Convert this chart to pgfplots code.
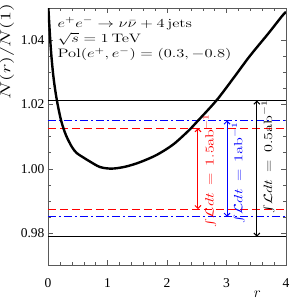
\RequirePackage{fix-cm}
\documentclass[border=0pt]{standalone}
\usepackage[no-math]{fontspec}
\setmainfont{Liberation Serif}
\usepackage{graphicx}
\usepackage{pgfplots}
\pgfplotsset{compat=1.18}
\usetikzlibrary{arrows.meta}
\newcommand{\wide}[1]{\scalebox{1.35}[1]{#1}}
\begin{document}
\begin{tikzpicture}
\begin{axis}[
  at={(0,0)}, anchor=south west,
  scale only axis, width=238pt, height=257pt,
  xmin=0, xmax=4, ymin=0.97, ymax=1.05,
  xtick={0,1,2,3,4}, ytick={0.98,1.00,1.02,1.04},
  minor x tick num=4, minor y tick num=3,
  tick align=inside,
  major tick length=5pt, minor tick length=3pt,
  axis line style={black!65},
  tick style={black!65},
  /pgf/number format/assume math mode=true,
  ticklabel style={font=\fontsize{13.5}{13.5}\selectfont},
  yticklabel style={/pgf/number format/.cd, fixed, fixed zerofill, precision=2},
  xticklabel style={yshift=-10pt},
  ylabel={\fontsize{14.5}{14.5}\selectfont\scalebox{1.4}[1]{$N(r)/N(1)$}},
  ylabel style={at={(ticklabel cs:0.83)}},
  xlabel={\fontsize{15}{15}\selectfont $r$},
  xlabel style={at={(ticklabel cs:0.88)}, anchor=north, yshift=3pt},
  clip=true,
]
% horizontal bands
\addplot[black, line width=1pt] coordinates {(0,1.0212) (4,1.0212)};
\addplot[black, line width=1pt] coordinates {(0,0.9788) (4,0.9788)};
\addplot[blue, line width=1pt, dash pattern=on 8pt off 3pt on 2pt off 3pt] coordinates {(0,1.0150) (4,1.0150)};
\addplot[blue, line width=1pt, dash pattern=on 8pt off 3pt on 2pt off 3pt] coordinates {(0,0.9850) (4,0.9850)};
\addplot[red, line width=1pt, dash pattern=on 8pt off 4pt] coordinates {(0,1.0126) (4,1.0126)};
\addplot[red, line width=1pt, dash pattern=on 8pt off 4pt] coordinates {(0,0.9874) (4,0.9874)};
% curve
\addplot[black, line width=2.4pt, smooth] coordinates {
(0.00,1.0520) (0.045,1.0380) (0.09,1.0288) (0.146,1.0216) (0.22,1.0150)
(0.30,1.0105) (0.40,1.0068) (0.48,1.0049) (0.60,1.0034) (0.706,1.0022)
(0.874,1.0005) (1.07,1.0000) (1.30,1.0006) (1.546,1.0020) (1.83,1.0043)
(2.11,1.0076) (2.39,1.0123) (2.50,1.0145) (2.83,1.0212) (3.11,1.0280)
(3.39,1.0350) (3.70,1.0420) (3.93,1.0474) (4.00,1.0488)};
% arrows
\draw[red, line width=1pt, {Straight Barb[length=3pt,width=6pt]}-{Straight Barb[length=3pt,width=6pt]}] (axis cs:2.52,0.9874) -- (axis cs:2.52,1.0126);
\draw[blue, line width=1pt, {Straight Barb[length=3pt,width=6pt]}-{Straight Barb[length=3pt,width=6pt]}] (axis cs:3.01,0.9850) -- (axis cs:3.01,1.0150);
\draw[black, line width=1pt, {Straight Barb[length=3pt,width=6pt]}-{Straight Barb[length=3pt,width=6pt]}] (axis cs:3.51,0.9788) -- (axis cs:3.51,1.0212);
\node[rotate=90, text=red, font=\fontsize{12}{12}\selectfont] at (axis cs:2.72,0.9994) {\wide{$\int\!\mathcal{L}dt\,=\,1.5\mathrm{ab}^{-1}$}};
\node[rotate=90, text=blue, font=\fontsize{12}{12}\selectfont] at (axis cs:3.20,0.9987) {\wide{$\int\!\mathcal{L}dt\,=\,1\mathrm{ab}^{-1}$}};
\node[rotate=90, text=black, font=\fontsize{12}{12}\selectfont] at (axis cs:3.70,1.0036) {\wide{$\int\!\mathcal{L}dt\,=\,0.5\mathrm{ab}^{-1}$}};
% annotation
\node[anchor=base west, inner sep=0pt, font=\fontsize{12.2}{12.2}\selectfont] at (axis cs:0.16,1.0440) {\wide{$e^+e^-\to\nu\bar\nu+4\,\mathrm{jets}$}};
\node[anchor=base west, inner sep=0pt, font=\fontsize{12.2}{12.2}\selectfont] at (axis cs:0.16,1.0392) {\wide{$\sqrt{s}=1\,\mathrm{TeV}$}};
\node[anchor=base west, inner sep=0pt, font=\fontsize{12.2}{12.2}\selectfont] at (axis cs:0.16,1.0345) {\wide{$\mathrm{Pol}(e^+,e^-)=(0.3,-0.8)$}};
\end{axis}
\pgfresetboundingbox
\path[use as bounding box] (-48pt,-36pt) rectangle (248pt,265pt);
\end{tikzpicture}
\end{document}
